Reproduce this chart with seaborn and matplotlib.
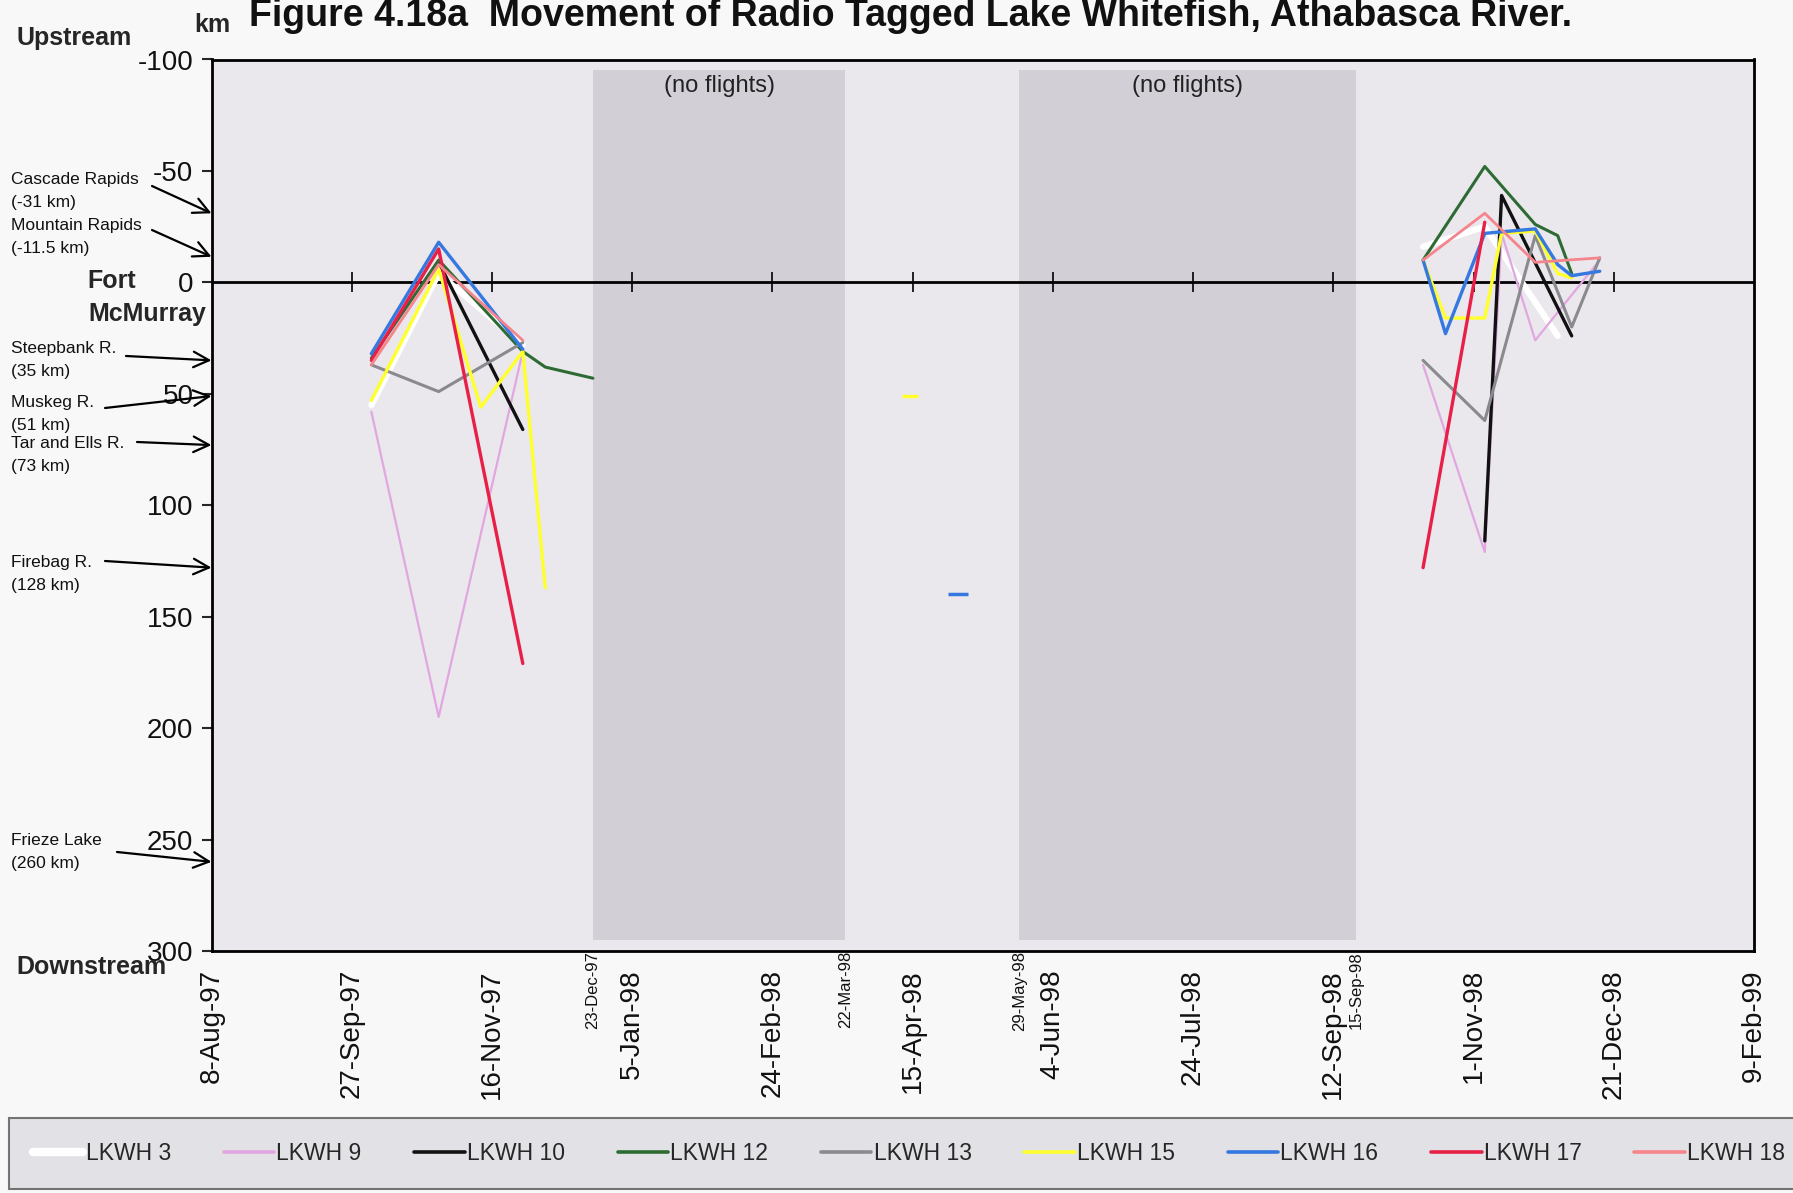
import numpy as np
import pandas as pd
import matplotlib.pyplot as plt
import seaborn as sns
from matplotlib.lines import Line2D

nan = np.nan

# flight dates, fall 1997 and fall 1998
dates_97 = ["1997-10-04", "1997-10-28", "1997-11-12", "1997-11-27", "1997-12-05", "1997-12-22"]
dates_98 = ["1998-10-14", "1998-10-22", "1998-11-05", "1998-11-11", "1998-11-23",
            "1998-12-01", "1998-12-06", "1998-12-16"]

# km from Fort McMurray (negative = upstream)
lkwh3_97 = [55, -4, nan, 28, nan, nan]
lkwh9_97 = [58, 195, nan, 31, nan, nan]
lkwh10_97 = [nan, -9, nan, 66, nan, nan]
lkwh12_97 = [34, -10, nan, 31, 38, 43]
lkwh13_97 = [37, 49, nan, 27, nan, nan]
lkwh15_97 = [53, -6, 56, 31, 137, nan]
lkwh16_97 = [32, -18, nan, 30, nan, nan]
lkwh17_97 = [35, -15, nan, 171, nan, nan]
lkwh18_97 = [37, -8, nan, 26, nan, nan]

lkwh3_98 = [-16, nan, -25, nan, nan, 24, nan, nan]
lkwh9_98 = [37, nan, 121, -22, 26, nan, nan, -10]
lkwh10_98 = [nan, nan, 116, -39, nan, nan, 24, nan]
lkwh12_98 = [-10, nan, -52, nan, -26, -21, -4, nan]
lkwh13_98 = [35, nan, 62, nan, -21, nan, 20, -11]
lkwh15_98 = [-10, 16, 16, -22, -23, -4, -2, nan]
lkwh16_98 = [-10, 23, -22, nan, -24, -8, -3, -5]
lkwh17_98 = [128, nan, -27, nan, nan, nan, nan, nan]
lkwh18_98 = [-10, nan, -31, nan, -9, nan, nan, -11]

# lone spring fixes
spring_dates = ["1998-04-14", "1998-05-01"]
spring_km = [51, 140]
spring_fish = ["LKWH 15", "LKWH 16"]

fish_names = ["LKWH 3", "LKWH 9", "LKWH 10", "LKWH 12", "LKWH 13",
              "LKWH 15", "LKWH 16", "LKWH 17", "LKWH 18"]
km_97 = [lkwh3_97, lkwh9_97, lkwh10_97, lkwh12_97, lkwh13_97,
         lkwh15_97, lkwh16_97, lkwh17_97, lkwh18_97]
km_98 = [lkwh3_98, lkwh9_98, lkwh10_98, lkwh12_98, lkwh13_98,
         lkwh15_98, lkwh16_98, lkwh17_98, lkwh18_98]
fish_colors = ["#ffffff", "#e2a6e0", "#111111", "#2e6b34", "#8a8a8e",
               "#ffff2e", "#3478e0", "#e82048", "#f5848c"]
fish_lw = [4.5, 1.6, 2.4, 2.2, 2.2, 2.4, 2.4, 2.4, 2.0]

# no-flight periods
gap_start = ["1997-12-22", "1998-05-23"]
gap_end = ["1998-03-22", "1998-09-20"]
gap_labels = ["23-Dec-97", "22-Mar-98", "29-May-98", "15-Sep-98"]

# landmarks on the river
site_names = ["Cascade Rapids\n(-31 km)", "Mountain Rapids\n(-11.5 km)", "Steepbank R.\n(35 km)",
              "Muskeg R.\n(51 km)", "Tar and Ells R.\n(73 km)", "Firebag R.\n(128 km)",
              "Frieze Lake\n(260 km)"]
site_km = [-31, -11.5, 35, 51, 73, 128, 260]

tick_dates = pd.date_range("1997-08-08", periods=12, freq="50D")

# long table
rows = []
for name, a, b in zip(fish_names, km_97, km_98):
    for d, v in zip(dates_97, a):
        rows.append((name, pd.Timestamp(d), v, 1))
    for d, v in zip(dates_98, b):
        rows.append((name, pd.Timestamp(d), v, 2))
df = pd.DataFrame(rows, columns=["fish", "date", "km", "period"]).dropna()

sns.set_theme(style="white")
plt.rcParams['font.family'] = ['Liberation Sans', 'DejaVu Sans']
plt.rcParams['axes.unicode_minus'] = False

W, H = 1793, 1193
fig = plt.figure(figsize=(W / 100, H / 100), dpi=100)
fig.patch.set_facecolor("#f8f8f9")
ax = fig.add_axes([211.5 / W, 1 - 951 / H, (1754 - 211.5) / W, (951 - 59.5) / H])
ax.set_facecolor("#eae8ed")

for s, e in zip(gap_start, gap_end):
    ax.axvspan(pd.Timestamp(s), pd.Timestamp(e), ymin=0.012, ymax=0.988,
               color="#d2d0d6", lw=0, zorder=0.5)
    mid = pd.Timestamp(s) + (pd.Timestamp(e) - pd.Timestamp(s)) / 2
    ax.text(mid, -88, "(no flights)", ha="center", va="center", fontsize=17, color="#222222")

ax.axhline(0, color="black", lw=2, zorder=1)
ax.vlines(tick_dates[1:-1], -4.5, 4.5, color="black", lw=1.2, zorder=1)

for name, c, lw in zip(fish_names, fish_colors, fish_lw):
    sns.lineplot(data=df[df.fish == name], x="date", y="km", units="period", estimator=None,
                 color=c, linewidth=lw, ax=ax, legend=False, zorder=3)

for d, v, f in zip(spring_dates, spring_km, spring_fish):
    i = fish_names.index(f)
    ax.plot([pd.Timestamp(d)], [v], marker="_", ms=11 if v < 100 else 14, mew=2.5,
            color=fish_colors[i], zorder=3)

ax.set_xlim(tick_dates[0], tick_dates[-1])
ax.set_ylim(300, -100)
ax.set_yticks(range(-100, 301, 50))
ax.set_xticks(tick_dates)
ax.set_xticklabels([f"{d.day}-{d:%b-%y}" for d in tick_dates], rotation=90, fontsize=20)
ax.tick_params(axis="x", length=0, pad=13, labelcolor="#111111")
ax.tick_params(axis="y", left=True, direction="out", length=7, width=1.5, labelsize=20, pad=6,
               labelcolor="#111111")
ax.set_xlabel("")
ax.set_ylabel("")
for sp in ax.spines.values():
    sp.set_color("black")
    sp.set_linewidth(2)

# small date labels at shading edges
edge_dates = [gap_start[0], gap_end[0], gap_start[1], gap_end[1]]
for d, lab in zip(edge_dates, gap_labels):
    ax.text(pd.Timestamp(d), 0.0, lab, transform=ax.get_xaxis_transform(), rotation=90,
            ha="center", va="top", fontsize=12, color="#111111")

# title and axis words
fig.text(911 / W, 1 - 26 / H, "Figure 4.18a  Movement of Radio Tagged Lake Whitefish, Athabasca River.",
         ha="center", va="baseline", fontsize=27, fontweight="bold", color="#111111")
fig.text(212 / W, 1 - 25 / H, "km", ha="center", va="center", fontsize=18, fontweight="bold")
fig.text(17 / W, 1 - 38 / H, "Upstream", ha="left", va="center", fontsize=18, fontweight="bold")
fig.text(16 / W, 1 - 967 / H, "Downstream", ha="left", va="center", fontsize=18, fontweight="bold")
fig.text(136 / W, 1 - 281 / H, "Fort", ha="right", va="center", fontsize=18, fontweight="bold")
fig.text(206 / W, 1 - 314 / H, "McMurray", ha="right", va="center", fontsize=18, fontweight="bold")

# landmark arrows
text_top = [172, 218, 341, 395, 436, 555, 833]
arrow_tail = [(152, 186), (152, 230), (126, 356), (105, 408), (137, 442), (105, 561), (117, 852)]
for name, k, ty, (tx, tyy) in zip(site_names, site_km, text_top, arrow_tail):
    fig.text(11 / W, 1 - ty / H, name, ha="left", va="top", fontsize=12.5, linespacing=1.7,
             color="#111111")
    ax.annotate("", xy=(0, k), xycoords=ax.get_yaxis_transform(),
                xytext=(tx / W, 1 - tyy / H), textcoords="figure fraction",
                arrowprops=dict(arrowstyle="->,head_length=0.7,head_width=0.35", lw=1.6,
                                color="black", mutation_scale=16, shrinkA=0, shrinkB=0),
                annotation_clip=False)

handles = [Line2D([0], [0], color=c, lw=max(lw, 2.6) if c != "#ffffff" else 6)
           for c, lw in zip(fish_colors, fish_lw)]
leg = fig.legend(handles, fish_names, loc="lower left", bbox_to_anchor=(0.005, 0.003, 1.004, 0.062),
                 mode="expand", ncol=9, fontsize=16.5, handlelength=2.2, handletextpad=0.1,
                 borderpad=1.05, borderaxespad=0, fancybox=False, frameon=True)
leg.get_frame().set_facecolor("#dddce1")
leg.get_frame().set_edgecolor("#555555")
leg.get_frame().set_linewidth(1.5)

fig.savefig("out.png", dpi=100, facecolor=fig.get_facecolor())
